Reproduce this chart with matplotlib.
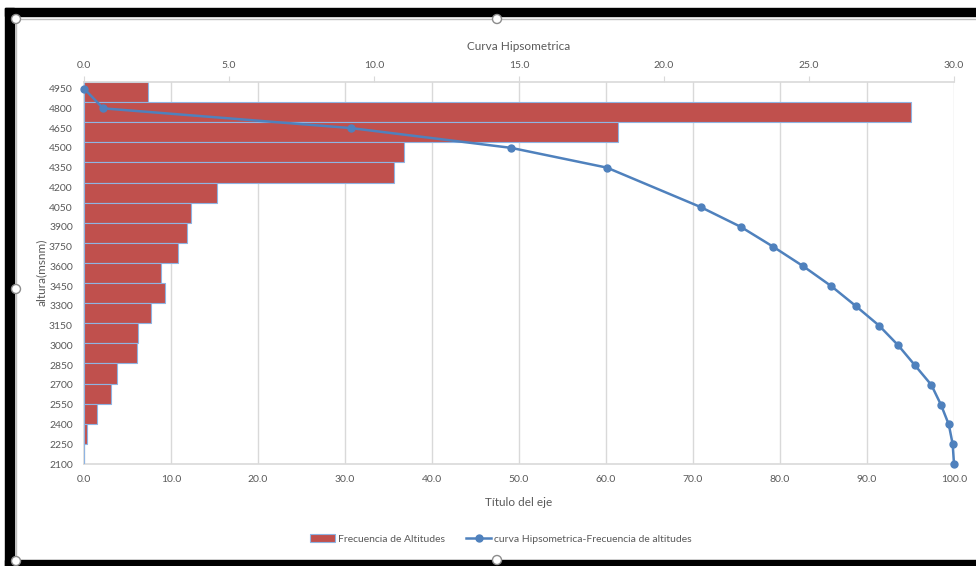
import numpy as np
import matplotlib
matplotlib.use('Agg')
import matplotlib.pyplot as plt
from matplotlib.patches import Rectangle, Ellipse

plt.rcParams['font.family'] = ['Lato', 'DejaVu Sans']

# Altitude axis ticks (msnm)
altitudes = [2100, 2250, 2400, 2550, 2700, 2850, 3000, 3150, 3300, 3450,
             3600, 3750, 3900, 4050, 4200, 4350, 4500, 4650, 4800, 4950]

# Frequency of altitudes (%) per band, from the top band down
freq_bands = ['4950', '4800', '4650', '4500', '4350', '4200', '4050', '3900', '3750',
              '3600', '3450', '3300', '3150', '3000', '2850', '2700', '2550', '2400', '2250']
frecuencia = [2.2, 28.5, 18.4, 11.05, 10.7, 4.59, 3.70, 3.56, 3.24, 2.67,
              2.79, 2.30, 1.87, 1.84, 1.15, 0.93, 0.46, 0.10, 0.0]

# Hypsometric curve: cumulative % of area above each altitude
curva_alt = [4950, 4800, 4650, 4500, 4350, 4050, 3900, 3750, 3600, 3450,
             3300, 3150, 3000, 2850, 2700, 2550, 2400, 2250, 2100]
curva_pct = [0.0, 2.2, 30.7, 49.1, 60.1, 70.9, 75.5, 79.2, 82.7, 85.9,
             88.7, 91.4, 93.6, 95.5, 97.4, 98.5, 99.4, 99.85, 100.0]

TXT = '#595959'
GRID = '#D9D9D9'
W, H = 976, 566

fig = plt.figure(figsize=(W / 100, H / 100), dpi=100)


def px(x, y):
    return x / W, 1 - y / H


# plot area in pixels: left 84, right 954, top 82, bottom 464
pos = [84 / W, 1 - 464 / H, (954 - 84) / W, (464 - 82) / H]

# bottom layer: gridlines, bottom x-axis and altitude axis
ax = fig.add_axes(pos)
ax.set_xlim(0, 100)
ax.set_ylim(2100, 5000)
ax.set_xticks(np.arange(0, 101, 10))
ax.set_xticklabels([f'{v:.1f}' for v in np.arange(0, 101, 10)])
ax.set_yticks(altitudes)
ax.set_yticklabels([str(a) for a in altitudes])
ax.tick_params(axis='both', length=0, colors=TXT, labelsize=7.5)
ax.tick_params(axis='x', pad=8)
ax.tick_params(axis='y', pad=8)
ax.grid(axis='x', color=GRID, linewidth=1)
for s in ['top', 'right']:
    ax.spines[s].set_visible(False)
for s in ['left', 'bottom']:
    ax.spines[s].set_color(GRID)
    ax.spines[s].set_linewidth(1.2)

# middle layer: frequency bars on the top axis
axb = fig.add_axes(pos)
axb.patch.set_alpha(0)
axb.set_xlim(0, 30)
axb.set_ylim(len(frecuencia) - 0.5, -0.5)
axb.barh(np.arange(len(frecuencia)), frecuencia, height=1.0,
         color='#C0504D', edgecolor='#8EB4E3', linewidth=0.8,
         label='Frecuencia de Altitudes')
axb.xaxis.tick_top()
axb.set_xticks(np.arange(0, 31, 5))
axb.set_xticklabels([f'{v:.1f}' for v in np.arange(0, 31, 5)])
axb.tick_params(axis='x', direction='out', length=4, color=GRID,
                labelcolor=TXT, labelsize=7.5, pad=5)
axb.set_yticks([])
for s in ['left', 'right', 'bottom']:
    axb.spines[s].set_visible(False)
axb.spines['top'].set_color(GRID)
axb.spines['top'].set_linewidth(1.2)

# top layer: hypsometric curve on the bottom axis scale
axc = fig.add_axes(pos, sharex=ax, sharey=ax)
axc.patch.set_alpha(0)
axc.plot(curva_pct, curva_alt, color='#4F81BD', linewidth=1.8,
         marker='o', markersize=5, clip_on=False,
         label='curva Hipsometrica-Frecuencia de altitudes')
axc.axis('off')

# axis titles
fig.text(*px(519, 47), 'Curva Hipsometrica', ha='center', va='center',
         color=TXT, fontsize=8.5)
fig.text(*px(519, 502), 'Título del eje', ha='center', va='center',
         color=TXT, fontsize=8.5)
fig.text(*px(41, 272), 'altura(msnm)', ha='center', va='center',
         color=TXT, fontsize=8.5, rotation=90)

# legend
h1, l1 = axb.get_legend_handles_labels()
h2, l2 = axc.get_legend_handles_labels()
fig.legend(h1 + h2, l1 + l2, loc='center', bbox_to_anchor=px(501, 539),
           ncol=2, frameon=False, fontsize=7.5, labelcolor=TXT,
           handlelength=2.4, handleheight=0.7, columnspacing=2.0,
           handletextpad=0.3)

# window frame and chart border
black = dict(color='black', transform=fig.transFigure, zorder=10)
fig.patches.append(Rectangle(px(5, 16), (W - 5) / W, 8 / H, **black))
fig.patches.append(Rectangle(px(5, H), 9 / W, (H - 8) / H, **black))
fig.patches.append(Rectangle(px(5, H), (W - 5) / W, 6 / H, **black))
fig.add_artist(plt.Line2D([16 / W, 1], [1 - 19 / H] * 2, color='#BFBFBF',
                          linewidth=1, transform=fig.transFigure))
fig.add_artist(plt.Line2D([16 / W] * 2, [1 - 19 / H, 1 - 560 / H], color='#BFBFBF',
                          linewidth=1, transform=fig.transFigure))

# selection handles
for hx, hy in [(16, 19), (497, 19), (16, 289), (16, 561), (497, 560)]:
    fig.add_artist(Ellipse(px(hx, hy), 9 / W, 9 / H, transform=fig.transFigure,
                           facecolor='white', edgecolor='#8C8C8C',
                           linewidth=1, zorder=11))

fig.savefig('out.png', dpi=100)
